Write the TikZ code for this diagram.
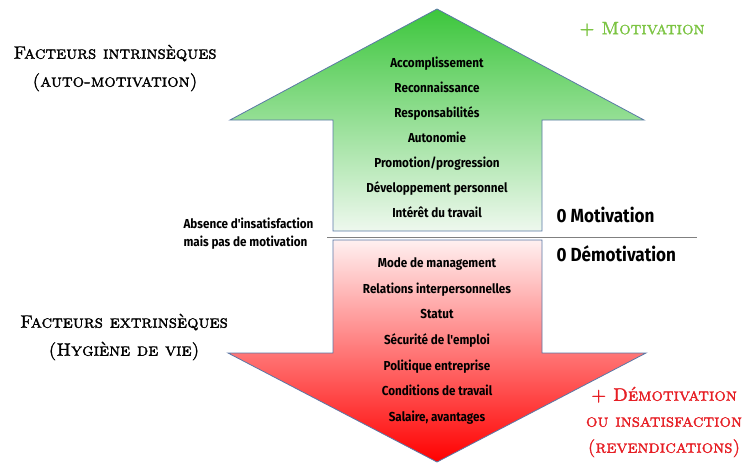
\documentclass[tikz,border=0pt]{standalone}
\usepackage{fontspec}
\newfontfamily\itemfont{Fira Sans}[FakeStretch=0.9]
\newfontfamily\titlefont{lmroman10-regular.otf}[SmallCapsFont=lmromancaps10-regular.otf,
    SmallCapsFeatures={FakeBold=1.6}, FakeBold=1.6]
\definecolor{outline}{HTML}{5A78A6}
\definecolor{plusgreen}{HTML}{7CC443}
\definecolor{plusred}{HTML}{E61E24}
\definecolor{topgreen}{HTML}{3CC63C}
\definecolor{palegreen}{HTML}{EEF8EE}
\definecolor{palered}{HTML}{FFF0F0}
\definecolor{fullred}{HTML}{FF0000}
\begin{document}
\begin{tikzpicture}[x=1pt, y=-1pt,
    facteur/.style={font=\titlefont\fontsize{18}{28}\selectfont\scshape, align=center},
    item/.style={font=\itemfont\bfseries\fontsize{13}{14}\selectfont, text height=9.5pt, text depth=2.5pt},
    zero/.style={font=\itemfont\bfseries\fontsize{19}{21}\selectfont, anchor=west},
    note/.style={font=\itemfont\bfseries\fontsize{13}{18}\selectfont, align=left, anchor=west}]
    \useasboundingbox (0,0) rectangle (745,463) ;

    % fleche du haut : facteurs de motivation
    \shadedraw [draw=outline, line width=0.8pt, top color=topgreen, bottom color=palegreen]
        (437,9) -- (644,120) -- (542,120) -- (542,231) -- (333,231) -- (333,120) -- (230,120) -- cycle ;
    % fleche du bas : facteurs d'hygiene
    \shadedraw [draw=outline, line width=0.8pt, top color=palered, bottom color=fullred]
        (333,240) -- (542,240) -- (542,353) -- (646,353) -- (437,462) -- (228,353) -- (333,353) -- cycle ;

    \coordinate (sepL) at (327,237) ;
    \coordinate (sepR) at (697,237) ;
    \draw [gray, line width=0.8pt] (sepL) -- (sepR) ;

    \foreach \txt [count=\i] in {Accomplissement, Reconnaissance, Responsabilités, Autonomie,
        Promotion/progression, Développement personnel, Intérêt du travail}
        \node [item] (up\i) at (437, 63.5+25.1*\i-25.1) {\txt} ;
    \foreach \txt [count=\i] in {Mode de management, Relations interpersonnelles, Statut,
        Sécurité de l'emploi, Politique entreprise, Conditions de travail, {Salaire, avantages}}
        \node [item] (down\i) at (437, 264+25.67*\i-25.67) {\txt} ;

    \node [facteur] (intr) at (115,68) {Facteurs intrinsèques\\(auto-motivation)} ;
    \node [facteur] (extr) at (124,337) {Facteurs extrinsèques\\(Hygiène de vie)} ;
    \node [facteur, text=plusgreen] (plusmot) at (642,29) {+ Motivation} ;
    \node [facteur, text=plusred, font=\titlefont\fontsize{18}{26}\selectfont\scshape] (plusdem) at (664,422)
        {+ Démotivation\\ou insatisfaction\\(revendications)} ;

    \node [zero] (zmot) at (553,215) {0 Motivation} ;
    \node [zero] (zdem) at (553,254) {0 Démotivation} ;
    \node [note] (absence) at (180,234) {Absence d'insatisfaction\\mais pas de motivation} ;
\end{tikzpicture}
\end{document}
